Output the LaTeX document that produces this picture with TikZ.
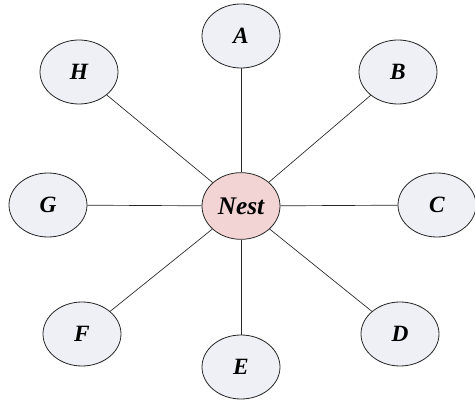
\documentclass[tikz,border=0pt]{standalone}
\usepackage{fontspec}
\setmainfont{Liberation Serif}
\usepackage{xcolor}
\usepackage{tikz}
\usetikzlibrary{shapes.geometric}
\definecolor{leafgray}{HTML}{EEF0F5}
\definecolor{nestpink}{HTML}{F1D4D3}
\tikzset{
  leaf/.style={ellipse,draw=black!85,line width=0.6pt,fill=leafgray,
    minimum width=58.5pt,minimum height=48pt,inner sep=0pt,
    font=\fontsize{17.5}{19}\selectfont\bfseries\itshape},
  hub/.style={leaf,fill=nestpink,minimum height=50pt,
    font=\fontsize{19}{21}\selectfont\bfseries\itshape},
  spoke/.style={draw=black!85,line width=0.5pt}}

\begin{document}
\begin{tikzpicture}[x=0.75pt,y=-0.75pt]
  \useasboundingbox (0,0) rectangle (475,402);
  \node[hub] (nest) at (241,206) {Nest};
  \node[leaf] (a) at (241,36) {A};
  \node[leaf] (b) at (398,72) {B};
  \node[leaf] (c) at (437,205) {C};
  \node[leaf] (d) at (400,334) {D};
  \node[leaf] (e) at (241,367) {E};
  \node[leaf] (f) at (82,334) {F};
  \node[leaf] (g) at (48,205) {G};
  \node[leaf] (h) at (79,72) {H};
  \foreach \n in {a,b,c,d,e,f,g,h}{\draw[spoke] (nest) -- (\n);}
\end{tikzpicture}
\end{document}
